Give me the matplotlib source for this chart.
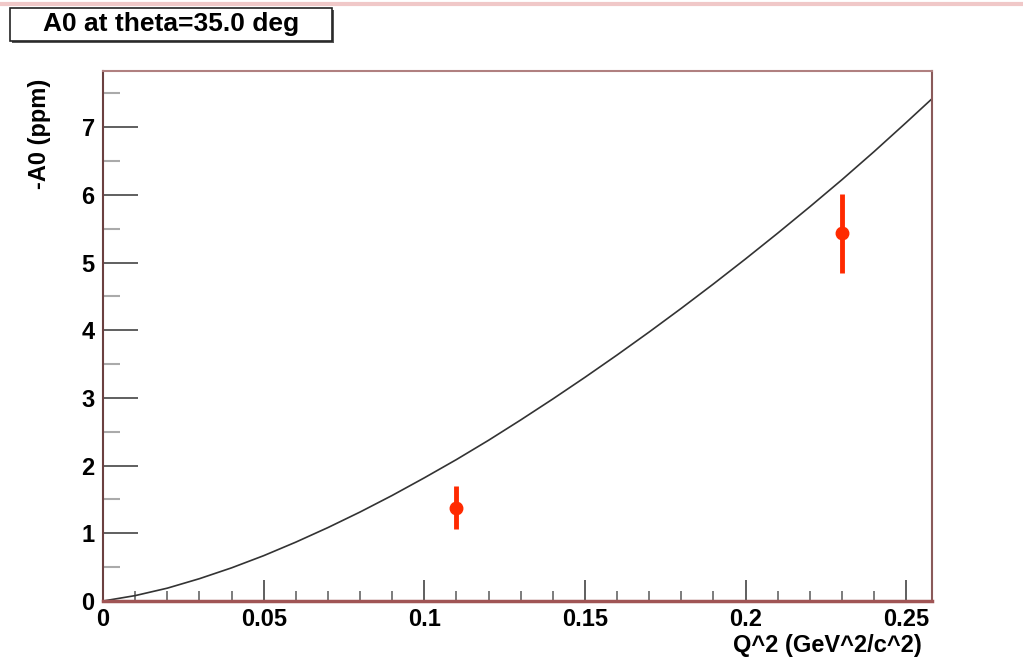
import matplotlib
matplotlib.use('Agg')

import matplotlib.pyplot as plt
import numpy as np
from matplotlib.patches import Rectangle
from matplotlib.ticker import MultipleLocator

# model curve
curve_q2 = [0.0, 0.01, 0.02, 0.03, 0.04, 0.05, 0.06, 0.07, 0.08, 0.09,
            0.10, 0.11, 0.12, 0.13, 0.14, 0.15, 0.16, 0.17, 0.18, 0.19,
            0.20, 0.21, 0.22, 0.23, 0.24, 0.25, 0.258]
curve_a0 = [0.0, 0.08, 0.19, 0.33, 0.49, 0.67, 0.87, 1.085, 1.315, 1.56,
            1.82, 2.09, 2.375, 2.675, 2.985, 3.305, 3.635, 3.975, 4.325, 4.685,
            5.055, 5.435, 5.825, 6.225, 6.64, 7.07, 7.42]

# measured points
meas_q2 = [0.11, 0.23]
meas_a0 = [1.38, 5.43]
meas_err = [0.32, 0.59]

title = "A0 at theta=35.0 deg"
xlabel = "Q^2 (GeV^2/c^2)"
ylabel = "-A0 (ppm)"

plt.rcParams['font.family'] = ['Liberation Sans', 'DejaVu Sans']
plt.rcParams['font.weight'] = 'bold'

fig = plt.figure(figsize=(10.23, 6.62), dpi=100)
ax = fig.add_axes([0.1007, 0.0921, 0.8103, 0.8006])

ax.plot(curve_q2, curve_a0, color='#333333', lw=1.2, zorder=2)
ax.errorbar(meas_q2, meas_a0, yerr=meas_err, fmt='o', color='#ff2a00',
            ms=9, elinewidth=3.5, capsize=0, zorder=3)

ax.set_xlim(0, 0.258)
ax.set_ylim(0, 7.83)

ax.xaxis.set_minor_locator(MultipleLocator(0.01))
ax.yaxis.set_major_locator(MultipleLocator(1))
ax.yaxis.set_minor_locator(MultipleLocator(0.5))
ax.set_xticks([0, 0.05, 0.1, 0.15, 0.2, 0.25])
ax.set_xticklabels(['0', '0.05', '0.1', '0.15', '0.2', '0.25'])

ax.tick_params(which='major', direction='in', color='#444444', width=1.2,
               labelsize=17)
ax.tick_params(axis='x', which='major', length=15, pad=5)
ax.tick_params(axis='y', which='major', length=25, pad=6)
ax.tick_params(axis='x', which='minor', direction='in', length=7,
               color='#666666', width=1.2)
ax.tick_params(axis='y', which='minor', direction='in', length=12,
               color='#aaaaaa', width=1.5)

ax.spines['left'].set_color('#6b4040')
ax.spines['left'].set_linewidth(1.5)
ax.spines['bottom'].set_color('#a05555')
ax.spines['bottom'].set_linewidth(2.5)
ax.spines['top'].set_color('#b08080')
ax.spines['top'].set_linewidth(1.5)
ax.spines['right'].set_color('#8a5a5a')
ax.spines['right'].set_linewidth(1.5)

ax.set_xlabel(xlabel, fontsize=17, fontweight='bold')
ax.xaxis.set_label_coords(0.988, -0.083)
ax.xaxis.label.set_horizontalalignment('right')
ax.xaxis.label.set_verticalalignment('center')
ax.set_ylabel(ylabel, fontsize=17, fontweight='bold')
ax.yaxis.set_label_coords(-0.077, 0.985)
ax.yaxis.label.set_verticalalignment('center')
ax.yaxis.label.set_horizontalalignment('right')

# pink strip along the top edge
fig.add_artist(plt.Line2D([0, 1], [0.994, 0.994], color='#f0c8c8', lw=3,
                          transform=fig.transFigure))

# title box with shadow
bx, by, bw, bh = 10 / 1023, 1 - 41 / 662, 322 / 1023, 33 / 662
fig.add_artist(Rectangle((bx + 2 / 1023, by - 2 / 662), bw, bh,
                         transform=fig.transFigure, facecolor='#555555',
                         edgecolor='none'))
fig.add_artist(Rectangle((bx, by), bw, bh, transform=fig.transFigure,
                         facecolor='white', edgecolor='#222222', lw=1.2))
fig.text(bx + bw / 2, by + bh / 2, title, ha='center', va='center',
         fontsize=19, fontweight='bold')

fig.savefig('out.png', dpi=100)
